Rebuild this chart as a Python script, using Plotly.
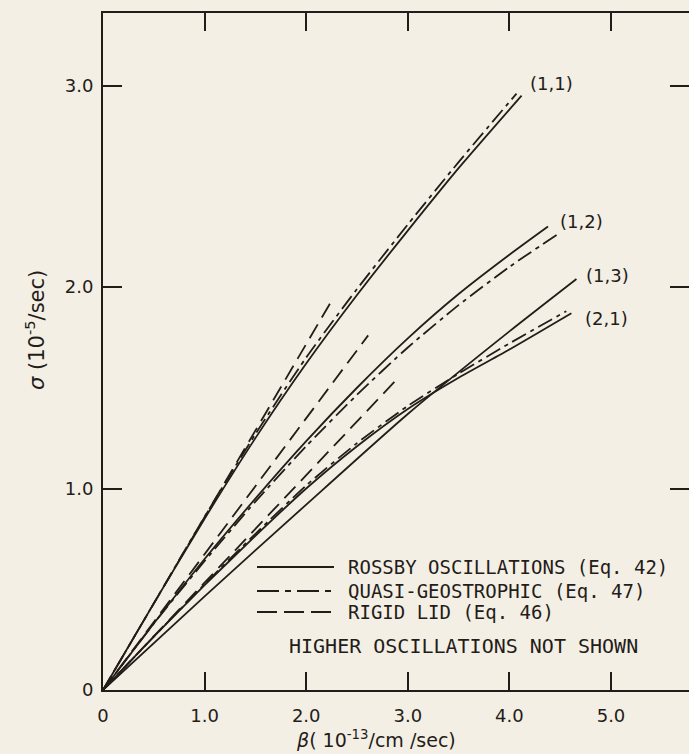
import plotly.graph_objects as go

# ---------------- data ----------------
# Rossby oscillations (Eq. 42) - solid
r11_beta = [0, 0.5, 1.0, 1.5, 2.0, 2.5, 3.0, 3.5, 4.12]
r11_sigma = [0, 0.43, 0.85, 1.25, 1.62, 1.96, 2.28, 2.59, 2.95]
r12_beta = [0, 0.5, 1.0, 1.5, 2.0, 2.5, 3.0, 3.5, 4.0, 4.38]
r12_sigma = [0, 0.33, 0.65, 0.95, 1.235, 1.50, 1.745, 1.965, 2.16, 2.30]
r13_beta = [0, 1.0, 2.0, 3.0, 4.0, 4.66]
r13_sigma = [0, 0.465, 0.92, 1.37, 1.78, 2.04]
r21_beta = [0, 0.5, 1.0, 1.5, 2.0, 2.5, 3.0, 3.5, 4.0, 4.61]
r21_sigma = [0, 0.265, 0.52, 0.765, 1.0, 1.21, 1.395, 1.55, 1.69, 1.87]

# Quasi-geostrophic (Eq. 47) - dash-dot
q11_beta = [0, 0.5, 1.0, 1.5, 2.0, 2.5, 3.0, 3.5, 4.07]
q11_sigma = [0, 0.43, 0.86, 1.27, 1.65, 1.99, 2.31, 2.62, 2.96]
q12_beta = [0, 0.5, 1.0, 1.5, 2.0, 2.5, 3.0, 3.5, 4.0, 4.47]
q12_sigma = [0, 0.33, 0.64, 0.935, 1.21, 1.465, 1.70, 1.91, 2.10, 2.26]
q21_beta = [0, 0.5, 1.0, 1.5, 2.0, 2.5, 3.0, 3.5, 4.0, 4.56]
q21_sigma = [0, 0.265, 0.525, 0.775, 1.015, 1.225, 1.41, 1.57, 1.72, 1.88]

# Rigid lid (Eq. 46) - dashed
l11_beta = [0, 2.26]
l11_sigma = [0, 1.94]
l12_beta = [0, 2.61]
l12_sigma = [0, 1.76]
l21_beta = [0, 2.87]
l21_sigma = [0, 1.53]

mode_labels = ["(1,1)", "(1,2)", "(1,3)", "(2,1)"]

x_tickvals = [0, 1, 2, 3, 4, 5]
x_ticktext = ["0", "1.0", "2.0", "3.0", "4.0", "5.0"]
y_tickvals = [0, 1, 2, 3]
y_ticktext = ["0", "1.0", "2.0", "3.0"]

legend_names = ["ROSSBY OSCILLATIONS (Eq. 42)",
                "QUASI-GEOSTROPHIC (Eq. 47)",
                "RIGID LID (Eq. 46)"]
note_text = "HIGHER OSCILLATIONS NOT SHOWN"

# ---------------- styling ----------------
INK = "#241c18"
BG = "#f3efe5"
FONT = "DejaVu Sans"
LFONT = "DejaVu Sans Mono"
LW = 1.8
SOLID = "solid"
DASHDOT = "16px,5px,4px,5px"
DASH = "16px,8px"

W, H = 689, 754
ML, MR, MT, MB = 103, 0, 13, 64
PW, PH = W - ML - MR, H - MT - MB

def px(x):
    return (x - ML) / PW

def py(y):
    return (H - MB - y) / PH

fig = go.Figure()

def add(xs, ys, dash):
    fig.add_trace(go.Scatter(x=xs, y=ys, mode="lines",
                             line=dict(color=INK, width=LW, dash=dash, shape="spline", smoothing=0.6),
                             showlegend=False, hoverinfo="skip"))

for xs, ys in [(r11_beta, r11_sigma), (r12_beta, r12_sigma), (r13_beta, r13_sigma), (r21_beta, r21_sigma)]:
    add(xs, ys, SOLID)
for xs, ys in [(q11_beta, q11_sigma), (q12_beta, q12_sigma), (q21_beta, q21_sigma)]:
    add(xs, ys, DASHDOT)
for xs, ys in [(l11_beta, l11_sigma), (l12_beta, l12_sigma), (l21_beta, l21_sigma)]:
    add(xs, ys, DASH)

# mode labels at curve ends
ends = [(r11_beta[-1], r11_sigma[-1], 6, 12),
        (r12_beta[-1], r12_sigma[-1], 10, 5),
        (r13_beta[-1], r13_sigma[-1], 8, 3),
        (r21_beta[-1], r21_sigma[-1], 12, -5)]
annotations = []
for lab, (bx, sy, xs_, ys_) in zip(mode_labels, ends):
    annotations.append(dict(x=bx, y=sy, xref="x", yref="y", text=lab, showarrow=False,
                            xanchor="left", yanchor="middle", xshift=xs_, yshift=ys_,
                            font=dict(family=FONT, size=18, color=INK)))

# legend (keys as shapes, text as annotations)
rows_y = [567, 591, 612]
dashes = [SOLID, "22px,6px,6px,6px", "20px,7px"]
shapes = []
for yy, dsh, name in zip(rows_y, dashes, legend_names):
    shapes.append(dict(type="line", xref="paper", yref="paper", x0=px(257), x1=px(334),
                       y0=py(yy), y1=py(yy), line=dict(color=INK, width=2, dash=dsh)))
    annotations.append(dict(x=px(346), y=py(yy), xref="paper", yref="paper", text=name,
                            showarrow=False, xanchor="left", yanchor="middle",
                            font=dict(family=LFONT, size=19, color=INK)))
annotations.append(dict(x=px(463), y=py(646), xref="paper", yref="paper", text=note_text,
                        showarrow=False, xanchor="center", yanchor="middle",
                        font=dict(family=LFONT, size=20, color=INK)))

# axis titles
annotations.append(dict(x=px(376), y=py(753), xref="paper", yref="paper",
                        text="<i>β</i>( 10<sup>-13</sup>/cm /sec)", showarrow=False,
                        xanchor="center", yanchor="bottom",
                        font=dict(family=FONT, size=19, color=INK)))
annotations.append(dict(x=px(35), y=py(330), xref="paper", yref="paper",
                        text="<i>σ</i> (10<sup>-5</sup>/sec)", showarrow=False, textangle=-90,
                        xanchor="center", yanchor="middle",
                        font=dict(family=FONT, size=21, color=INK)))

xmax = PW / 101.6
ymax = PH / 201.5

fig.update_layout(
    width=W, height=H, margin=dict(l=ML, r=MR, t=MT, b=MB),
    paper_bgcolor=BG, plot_bgcolor=BG,
    showlegend=False,
    shapes=shapes, annotations=annotations,
    xaxis=dict(range=[0, xmax], tickvals=x_tickvals, ticktext=x_ticktext,
               ticks="inside", ticklen=18, tickwidth=2, tickcolor=INK,
               showline=True, linewidth=2, linecolor=INK, mirror="ticks",
               showgrid=False, zeroline=False, ticklabelstandoff=8,
               tickfont=dict(family=FONT, size=18, color=INK)),
    yaxis=dict(range=[0, ymax], tickvals=y_tickvals, ticktext=y_ticktext,
               ticks="inside", ticklen=19, tickwidth=2, tickcolor=INK,
               showline=True, linewidth=2, linecolor=INK, mirror=False,
               showgrid=False, zeroline=False, ticklabelstandoff=4,
               tickfont=dict(family=FONT, size=18, color=INK)),
    yaxis2=dict(range=[0, ymax], overlaying="y", side="right", tickvals=[1, 2, 3],
                ticks="inside", ticklen=19, tickwidth=2, tickcolor=INK,
                showticklabels=False, showline=False, showgrid=False, zeroline=False),
)
fig.add_trace(go.Scatter(x=[None], y=[None], yaxis="y2", showlegend=False, hoverinfo="skip"))

page_fix = ("document.body.style.margin='0';"
            "document.body.style.background='" + BG + "';"
            "document.body.style.overflow='hidden';")
fig.write_html("out.html", post_script=page_fix, config={"displayModeBar": False})
